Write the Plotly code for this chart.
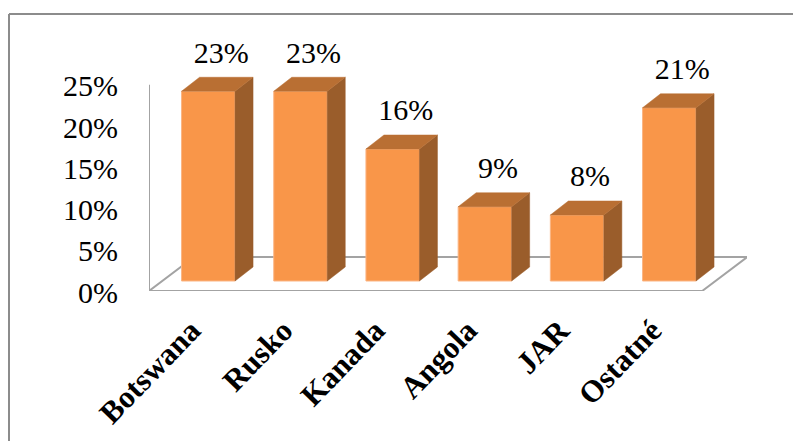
import plotly.graph_objects as go

categories = ["Botswana", "Rusko", "Kanada", "Angola", "JAR", "Ostatné"]
values = [23, 23, 16, 9, 8, 21]
y_ticks = [0, 5, 10, 15, 20, 25]

FRONT = "#F99649"
FRONT_EDGE = "#FBB584"
TOP = "#B96F33"
SIDE = "#9A5D2B"
GRID = "#A3A3A3"
FONT = "Liberation Serif"

PAGE = 8  # the page's own body margin
W, H = 801 - PAGE, 441 - PAGE
L, R, T, B = 149 - PAGE, 747 - PAGE, 10, 291 - PAGE
PX_X = 92.2
PX_Y = 8.25
Y_MAX = (B - T) / PX_Y

bar_w = 53.5 / PX_X
shift_x, shift_y = 13.2 / PX_X, 10 / PX_Y
depth_x, depth_y = 18 / PX_X, 14 / PX_Y
floor_x, floor_y = 45 / PX_X, 34 / PX_Y
xs = list(range(len(categories)))

fig = go.Figure()
fig.add_trace(go.Bar(
    x=[i + shift_x for i in xs], y=values, base=shift_y, width=bar_w,
    marker=dict(color=FRONT, line=dict(color=FRONT_EDGE, width=1)),
    hoverinfo="skip",
))

side_x, side_y, top_x, top_y = [], [], [], []
for i, v in zip(xs, values):
    x0 = i + shift_x - bar_w / 2
    x1 = i + shift_x + bar_w / 2
    y0 = shift_y
    y1 = shift_y + v
    side_x += [x1, x1 + depth_x, x1 + depth_x, x1, x1, None]
    side_y += [y0, y0 + depth_y, y1 + depth_y, y1, y0, None]
    top_x += [x0, x1, x1 + depth_x, x0 + depth_x, x0, None]
    top_y += [y1, y1, y1 + depth_y, y1 + depth_y, y1, None]

fig.add_trace(go.Scatter(x=side_x, y=side_y, mode="lines", fill="toself", fillcolor=SIDE,
                         line=dict(color=SIDE, width=0.5), hoverinfo="skip"))
fig.add_trace(go.Scatter(x=top_x, y=top_y, mode="lines", fill="toself", fillcolor=TOP,
                         line=dict(color=TOP, width=0.5), hoverinfo="skip"))
fig.add_trace(go.Scatter(
    x=[i + shift_x + 13 / PX_X for i in xs],
    y=[v + shift_y + depth_y + 0.85 for v in values],
    mode="text", text=[f"{v}%" for v in values], textposition="top center",
    textfont=dict(family=FONT, size=30, color="black"),
    hoverinfo="skip",
))

n = len(categories)
front_r = n - 0.5
frame_y = (B - (14 - PAGE)) / (B - T)
frame_x = ((9 - PAGE) - L) / (R - L)
shapes = [
    dict(type="path", layer="below", xref="x", yref="y",
         path=f"M -0.5 0 L {front_r} 0 L {front_r + floor_x} {floor_y} L {-0.5 + floor_x} {floor_y} Z",
         line=dict(color=GRID, width=2)),
    dict(type="line", layer="below", xref="x", yref="y", x0=-0.5, x1=-0.5, y0=0, y1=25,
         line=dict(color=GRID, width=2)),
    dict(type="line", xref="paper", yref="paper",
         x0=frame_x, x1=(W - L) / (R - L), y0=frame_y, y1=frame_y,
         line=dict(color="#8C8C8C", width=2)),
    dict(type="line", xref="paper", yref="paper",
         x0=frame_x, x1=frame_x, y0=frame_y, y1=(B - H) / (B - T),
         line=dict(color="#8C8C8C", width=2)),
]

fig.update_layout(
    width=W, height=H, showlegend=False,
    margin=dict(l=L, r=W - R, t=T, b=H - B, autoexpand=False),
    paper_bgcolor="white", plot_bgcolor="white",
    shapes=shapes,
    xaxis=dict(range=[-0.5, -0.5 + (R - L) / PX_X], tickmode="array", tickvals=xs, ticktext=categories,
               tickangle=-46, showgrid=False, zeroline=False, showline=False,
               ticks="outside", ticklen=8, tickcolor="rgba(0,0,0,0)", ticklabelshift=-4,
               tickfont=dict(family=FONT, size=31, color="black", weight="bold")),
    yaxis=dict(range=[0, Y_MAX], tickmode="array", tickvals=y_ticks, ticktext=[f"{t}%" for t in y_ticks],
               showgrid=False, zeroline=False, showline=False,
               ticks="outside", ticklen=24, tickcolor="rgba(0,0,0,0)", ticklabelshift=1,
               tickfont=dict(family=FONT, size=30, color="black")),
)
fig.write_html("out.html")
